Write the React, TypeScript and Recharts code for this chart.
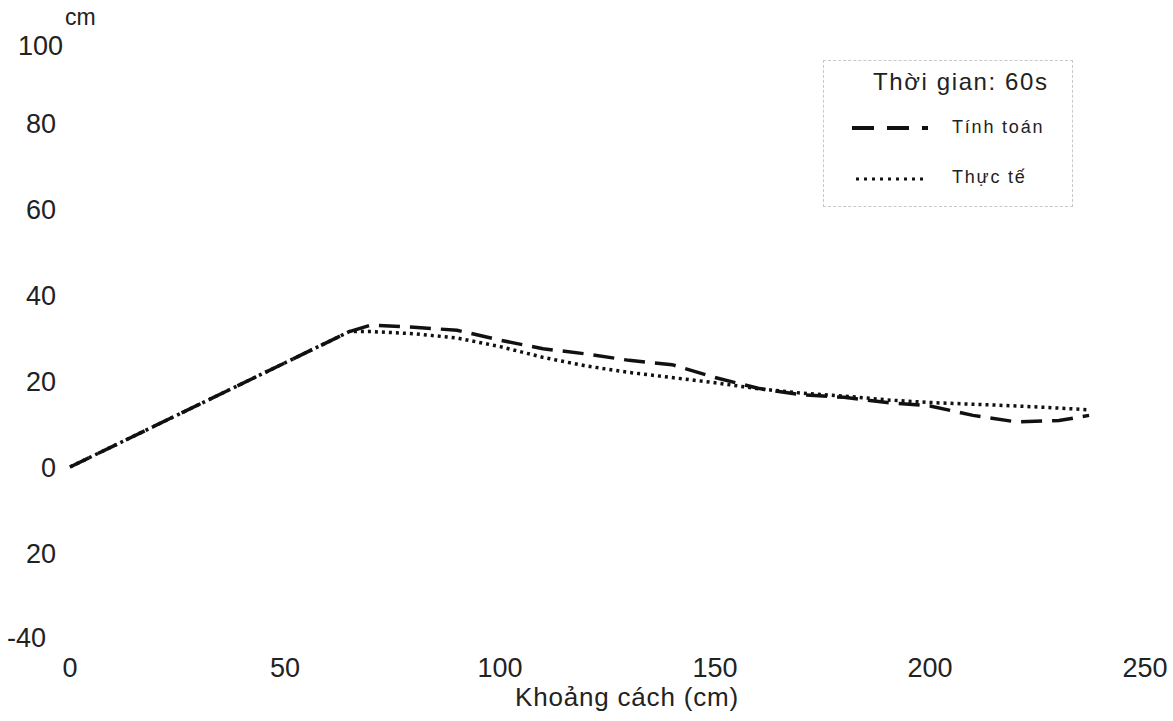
import React from 'react'
import { LineChart, Line, XAxis, YAxis } from 'recharts'

// distance (cm) along the section
const distances = [0, 65, 70, 80, 90, 100, 110, 120, 130, 140, 150, 160, 170, 180, 190, 200, 210, 220, 230, 237]
// computed profile (Tính toán)
const tinhToan = [0, 31.5, 33, 32.5, 31.8, 29.5, 27.5, 26.3, 24.8, 23.8, 20.8, 18.3, 16.8, 16.2, 15, 14.2, 12, 10.5, 10.8, 12]
// measured profile (Thực tế)
const thucTe = [0, 31.5, 31.5, 31, 30, 28, 25.5, 23.5, 22, 20.8, 19.6, 18.2, 17.2, 16.5, 15.6, 15, 14.6, 14.2, 13.7, 13.3]

const xTicks = [0, 50, 100, 150, 200, 250]
const yTicks = [100, 80, 60, 40, 20, 0, -20, -40]
const yTickLabels = ['100', '80', '60', '40', '20', '0', '20', '-40']

const data = distances.map((x, i) => ({ x, tinh: tinhToan[i], thuc: thucTe[i] }))

const font = '"Liberation Sans", Arial, sans-serif'

const YTick = (props: any) => {
  const { y, payload } = props
  const idx = yTicks.indexOf(payload.value)
  const label = idx >= 0 ? yTickLabels[idx] : String(payload.value)
  let x = 56
  let dy = 10
  if (label === '100') {
    x = 63
    dy = 18
  }
  if (label === '-40') {
    x = 46
    dy = 8
  }
  return (
    <text x={x} y={y} dy={dy} fontSize={27} fill="#222" fontFamily={font} textAnchor="end">
      {label}
    </text>
  )
}

const XTick = (props: any) => {
  const { x, y, payload } = props
  return (
    <text x={x} y={y} dy={30} fontSize={27} fill="#222" fontFamily={font} textAnchor="middle">
      {payload.value}
    </text>
  )
}

const App: React.FC = () => {
  return (
    <div style={{ position: 'relative', width: 1173, height: 721, background: '#fff' }}>
      <style>{`body{margin:0}`}</style>
      <LineChart
        width={1173}
        height={721}
        data={data}
        margin={{ top: 37, right: 28, bottom: 22, left: 0 }}
      >
        <XAxis
          dataKey="x"
          type="number"
          domain={[0, 250]}
          ticks={xTicks}
          axisLine={false}
          tickLine={false}
          height={60}
          tick={<XTick />}
        />
        <YAxis
          type="number"
          domain={[-40, 100]}
          ticks={yTicks}
          axisLine={false}
          tickLine={false}
          width={70}
          tick={<YTick />}
        />
        <Line
          type="linear"
          dataKey="tinh"
          stroke="#111"
          strokeWidth={3.5}
          strokeDasharray="21 10"
          dot={false}
          isAnimationActive={false}
        />
        <Line
          type="linear"
          dataKey="thuc"
          stroke="#111"
          strokeWidth={3.5}
          strokeDasharray="3 4"
          dot={false}
          isAnimationActive={false}
        />
      </LineChart>
      <div style={{ position: 'absolute', left: 65, top: 4, fontFamily: font, fontSize: 23, color: '#222' }}>cm</div>
      <div
        style={{
          position: 'absolute',
          left: 627 - 200,
          width: 400,
          top: 682,
          textAlign: 'center',
          fontFamily: font,
          fontSize: 26,
          letterSpacing: 0.8,
          color: '#222',
        }}
      >
        Khoảng cách (cm)
      </div>
      <div
        style={{
          position: 'absolute',
          left: 823,
          top: 60,
          width: 250,
          height: 147,
          border: '1px dashed #c8c8c8',
          boxSizing: 'border-box',
          fontFamily: font,
          color: '#222',
        }}
      >
        <div style={{ position: 'absolute', left: 49, top: 7, fontSize: 24, letterSpacing: 1.6, whiteSpace: 'nowrap' }}>
          Thời gian: 60s
        </div>
        <svg style={{ position: 'absolute', left: 26, top: 62 }} width={80} height={10}>
          <line x1={2} y1={5} x2={78} y2={5} stroke="#111" strokeWidth={4} strokeDasharray="22 13" />
        </svg>
        <div style={{ position: 'absolute', left: 128, top: 56, fontSize: 18, letterSpacing: 1.8, whiteSpace: 'nowrap' }}>
          Tính toán
        </div>
        <svg style={{ position: 'absolute', left: 30, top: 113 }} width={74} height={10}>
          <line x1={2} y1={5} x2={72} y2={5} stroke="#111" strokeWidth={3} strokeDasharray="3 5" />
        </svg>
        <div style={{ position: 'absolute', left: 128, top: 106, fontSize: 18, letterSpacing: 1.8, whiteSpace: 'nowrap' }}>
          Thực tế
        </div>
      </div>
    </div>
  )
}

export default App
